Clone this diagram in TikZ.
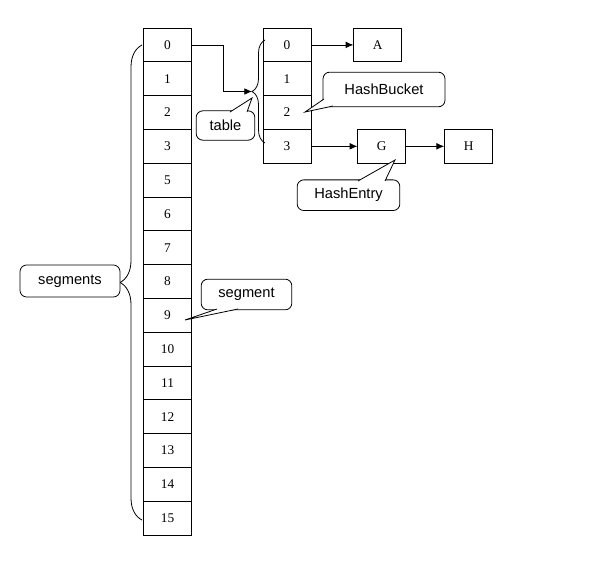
\documentclass[tikz,border=0pt]{standalone}
\usepackage{fontspec}
\setmainfont{Liberation Serif}
\setsansfont{Liberation Sans}
\usepackage{tikz}
\usetikzlibrary{arrows.meta}
\usetikzlibrary{positioning, decorations.pathreplacing}

\tikzset{
  cell/.style={draw, minimum width=36pt, minimum height=25.35pt, inner sep=0pt, font=\fontsize{10}{12}\selectfont},
  bubble/.style={draw, fill=white, rounded corners=5pt, inner sep=0pt, font=\sffamily\fontsize{11}{13}\selectfont},
  link/.style={-{Latex[length=5.8pt, width=5pt]}},
  curly/.style={decorate, decoration={brace, amplitude=#1}}
}

\begin{document}
\begin{tikzpicture}[x=0.75pt, y=-0.75pt, line width=0.6pt]
  \useasboundingbox (0,0) rectangle (595,564);

  % segments
  \foreach \lbl [count=\i from 0] in {0,1,2,3,5,6,7,8,9,10,11,12,13,14,15}
    \node[cell] (s\i) at (167.5, 44.9+33.8*\i) {\lbl};

  % table
  \foreach \i in {0,...,3}
    \node[cell] (t\i) at (287, 44.9+33.8*\i) {\i};

  \node[cell, right=31.5pt of t0] (A) {A};
  \node[cell, right=34.5pt of t3] (G) {G};
  \node[cell, right=28.5pt of G] (H) {H};

  \draw[link] (t0) -- (A);
  \draw[link] (t3) -- (G);
  \draw[link] (G) -- (H);

  % braces
  \draw[curly=9.75pt] (265,143) -- (265,40);
  \coordinate (tb) at (252,91.5);
  \draw[link] (s0.east) -- ++(31,0) |- (tb);
  \draw[curly=16.5pt] (142,520) -- (142,45);

  % notes
  \node[bubble, minimum width=44pt, minimum height=22pt] (tablenote) at (225.5,125.5) {table};
  \filldraw[fill=white] (230,112) -- (252,98) -- (247,112);

  \node[bubble, minimum width=91.5pt, minimum height=26pt] (bucketnote) at (384,89.5) {HashBucket};
  \filldraw[fill=white] (324,99) -- (305,112) -- (333,106);

  \node[bubble, minimum width=77pt, minimum height=23pt] (entrynote) at (348.5,195.2) {HashEntry};
  \filldraw[fill=white] (358,181) -- (395,160) -- (385,181);

  \node[bubble, minimum width=75pt, minimum height=24pt] (segsnote) at (70,281) {segments};

  \node[bubble, minimum width=68pt, minimum height=23pt] (segnote) at (246.5,294.5) {segment};
  \filldraw[fill=white] (217,309) -- (185,320) -- (238,309);
\end{tikzpicture}
\end{document}
